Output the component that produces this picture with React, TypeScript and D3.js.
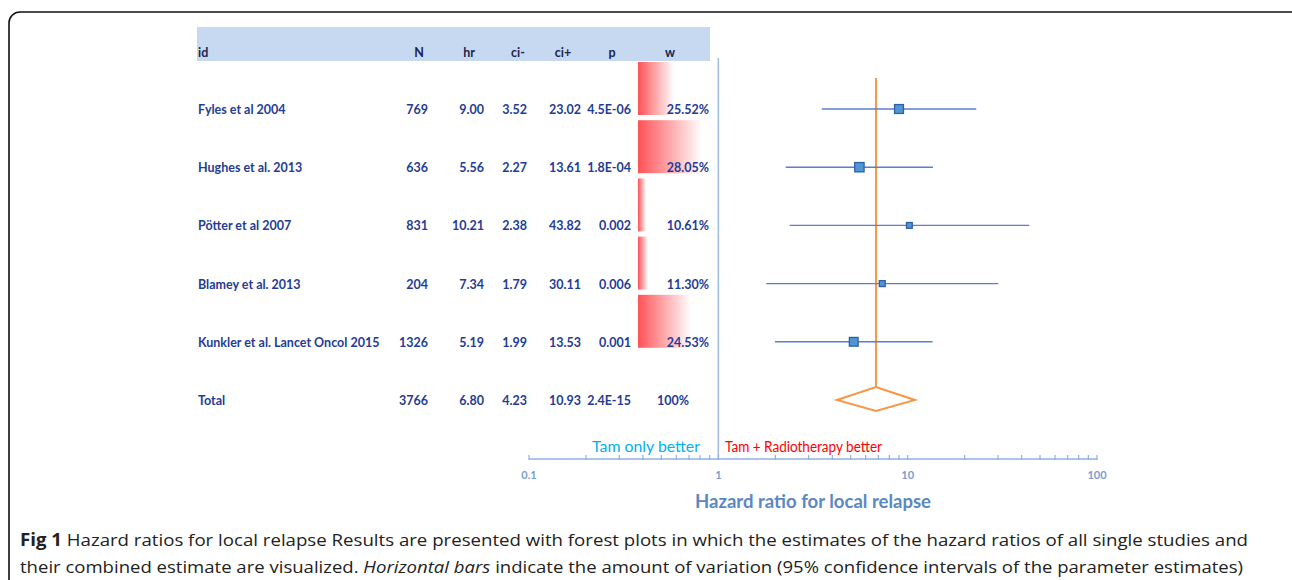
import React, { useEffect, useRef } from 'react';
import * as d3 from 'd3';

// study table
const studies = ['Fyles et al 2004', 'Hughes et al. 2013', 'Pötter et al 2007', 'Blamey et al. 2013', 'Kunkler et al. Lancet Oncol 2015'];
const nVals = [769, 636, 831, 204, 1326];
const hrVals = [9.0, 5.56, 10.21, 7.34, 5.19];
const ciLow = [3.52, 2.27, 2.38, 1.79, 1.99];
const ciHigh = [23.02, 13.61, 43.82, 30.11, 13.53];
const pVals = ['4.5E-06', '1.8E-04', '0.002', '0.006', '0.001'];
const weights = [25.52, 28.05, 10.61, 11.3, 24.53];
// data-bar lengths as drawn in the figure (Fyles bar is shorter than its weight)
const weightBars = [19.3, 28.05, 10.61, 11.3, 24.53];

const total = { id: 'Total', n: 3766, hr: 6.8, lo: 4.23, hi: 10.93, p: '2.4E-15', w: '100%' };

const headers = ['N', 'hr', 'ci-', 'ci+', 'p', 'w'];
const axisLabels = [0.1, 1, 10, 100];

function App() {
  const ref = useRef<SVGSVGElement>(null);

  useEffect(() => {
    if (!ref.current) return;
    const svg = d3.select(ref.current);
    svg.selectAll('*').remove();

    const tableFont = 'Lato, "Open Sans", sans-serif';
    const navy = '#1f3c96';
    const fs = 12.5;

    // outer frame
    svg.append('rect')
      .attr('x', 9).attr('y', 12).attr('width', 1300).attr('height', 600)
      .attr('rx', 11)
      .attr('fill', 'none').attr('stroke', '#111').attr('stroke-width', 1.6);

    // rows
    const rowIds = [...studies, total.id];
    const y = d3.scalePoint<string>().domain(rowIds).range([109, 400]);

    // header band
    svg.append('rect')
      .attr('x', 197).attr('y', 27).attr('width', 513).attr('height', 34)
      .attr('fill', '#c6d9f1');

    const colX = [428, 484, 527, 581, 631, 709];
    const headerX = [419, 469, 518, 563, 612, 670];
    svg.append('text')
      .attr('x', 198).attr('y', 57)
      .attr('font-family', tableFont).attr('font-weight', 'bold').attr('font-size', fs)
      .attr('fill', '#1a2550').text('id');
    svg.selectAll('.hdr').data(headers).enter().append('text')
      .attr('x', (d, i) => headerX[i]).attr('y', 57)
      .attr('text-anchor', 'middle')
      .attr('font-family', tableFont).attr('font-weight', 'bold').attr('font-size', fs)
      .attr('fill', '#1a2550').text(d => d);

    // weight data bars
    const defs = svg.append('defs');
    const grad = defs.append('linearGradient').attr('id', 'wgrad')
      .attr('x1', '0%').attr('x2', '100%').attr('y1', '0%').attr('y2', '0%');
    grad.append('stop').attr('offset', '0%').attr('stop-color', '#ff5257');
    grad.append('stop').attr('offset', '100%').attr('stop-color', '#ffffff');

    const wScale = d3.scaleLinear()
      .domain([d3.min(weights)!, d3.max(weights)!])
      .range([8, 64]);

    svg.selectAll('.wbar').data(weightBars).enter().append('rect')
      .attr('x', 638)
      .attr('y', (d, i) => y(studies[i])! - 47)
      .attr('width', d => wScale(d))
      .attr('height', 53)
      .attr('fill', 'url(#wgrad)');

    // table rows
    const rows = studies.map((s, i) => [
      s, String(nVals[i]), hrVals[i].toFixed(2), ciLow[i].toFixed(2), ciHigh[i].toFixed(2), pVals[i], weights[i].toFixed(2) + '%',
    ]);
    rows.push([total.id, String(total.n), total.hr.toFixed(2), total.lo.toFixed(2), total.hi.toFixed(2), total.p, total.w]);

    rows.forEach((r, ri) => {
      const yy = y(rowIds[ri])! + 5;
      const g = svg.append('g')
        .attr('font-family', tableFont).attr('font-weight', 'bold').attr('font-size', fs)
        .attr('fill', navy);
      g.append('text').attr('x', 198).attr('y', yy).text(r[0]);
      r.slice(1).forEach((v, ci) => {
        const isTotalW = ri === rows.length - 1 && ci === 5;
        g.append('text')
          .attr('x', isTotalW ? 689 : colX[ci]).attr('y', yy)
          .attr('text-anchor', 'end')
          .text(v);
      });
    });

    // forest plot
    const x = d3.scaleLog().domain([0.1, 100]).range([529, 1097]);
    const axisY = 459;

    // reference line at 1
    svg.append('line')
      .attr('x1', x(1)).attr('x2', x(1)).attr('y1', 58).attr('y2', axisY)
      .attr('stroke', '#9dbbe6').attr('stroke-width', 1.5);

    // pooled estimate line
    svg.append('line')
      .attr('x1', x(total.hr)).attr('x2', x(total.hr))
      .attr('y1', 78).attr('y2', y(total.id)! - 13)
      .attr('stroke', '#f79646').attr('stroke-width', 2);

    // CI lines
    svg.selectAll('.ci').data(studies).enter().append('line')
      .attr('x1', (d, i) => x(ciLow[i])).attr('x2', (d, i) => x(ciHigh[i]))
      .attr('y1', d => y(d)!).attr('y2', d => y(d)!)
      .attr('stroke', '#5b7fc9').attr('stroke-width', 1.4);

    // squares
    svg.selectAll('.sq').data(studies).enter().append('rect')
      .attr('x', (d, i) => x(hrVals[i]) - Math.sqrt(weights[i]) * 0.88)
      .attr('y', (d, i) => y(d)! - Math.sqrt(weights[i]) * 0.88)
      .attr('width', (d, i) => Math.sqrt(weights[i]) * 1.76)
      .attr('height', (d, i) => Math.sqrt(weights[i]) * 1.76)
      .attr('fill', '#4f97d3').attr('stroke', '#2f5ea8').attr('stroke-width', 1.3);

    // diamond
    const ty = y(total.id)!;
    svg.append('path')
      .attr('d', `M${x(total.lo)},${ty} L${x(total.hr)},${ty - 13} L${x(total.hi)},${ty} L${x(total.hr)},${ty + 11} Z`)
      .attr('fill', 'white').attr('stroke', '#f79646').attr('stroke-width', 2);

    // axis
    svg.append('line')
      .attr('x1', x(0.1)).attr('x2', x(100)).attr('y1', axisY).attr('y2', axisY)
      .attr('stroke', '#8fb0e0').attr('stroke-width', 1.3);
    svg.selectAll('.tick').data(x.ticks()).enter().append('line')
      .attr('x1', d => x(d)).attr('x2', d => x(d))
      .attr('y1', axisY - 4).attr('y2', axisY + 1)
      .attr('stroke', '#8fb0e0').attr('stroke-width', 1.2);
    svg.selectAll('.tlab').data(axisLabels).enter().append('text')
      .attr('x', d => x(d)).attr('y', 479)
      .attr('text-anchor', 'middle')
      .attr('font-family', tableFont).attr('font-weight', 'bold').attr('font-size', 11)
      .attr('fill', '#7a9cd2')
      .text(d => String(d));

    // direction labels
    svg.append('text')
      .attr('x', 700).attr('y', 452).attr('text-anchor', 'end')
      .attr('font-family', tableFont).attr('font-size', 14.5)
      .attr('textLength', 108).attr('lengthAdjust', 'spacingAndGlyphs')
      .attr('fill', '#00b0f0').text('Tam only better');
    svg.append('text')
      .attr('x', 725).attr('y', 452)
      .attr('font-family', tableFont).attr('font-size', 14.5)
      .attr('textLength', 157).attr('lengthAdjust', 'spacingAndGlyphs')
      .attr('fill', '#ff0000').text('Tam + Radiotherapy better');

    // axis title
    svg.append('text')
      .attr('x', 695).attr('y', 508)
      .attr('font-family', tableFont).attr('font-weight', 'bold').attr('font-size', 19)
      .attr('textLength', 236).attr('lengthAdjust', 'spacingAndGlyphs')
      .attr('fill', '#5b87c5').text('Hazard ratio for local relapse');

    // caption
    const cap1 = svg.append('text')
      .attr('x', 20).attr('y', 546)
      .attr('font-family', '"Open Sans", sans-serif').attr('font-size', 17)
      .attr('fill', '#222')
      .attr('textLength', 1228).attr('lengthAdjust', 'spacingAndGlyphs');
    cap1.append('tspan').attr('font-weight', 'bold').text('Fig 1');
    cap1.append('tspan').text(' Hazard ratios for local relapse Results are presented with forest plots in which the estimates of the hazard ratios of all single studies and');

    const cap2 = svg.append('text')
      .attr('x', 20).attr('y', 573)
      .attr('font-family', '"Open Sans", sans-serif').attr('font-size', 17)
      .attr('fill', '#222')
      .attr('textLength', 1223).attr('lengthAdjust', 'spacingAndGlyphs');
    cap2.append('tspan').text('their combined estimate are visualized. ');
    cap2.append('tspan').attr('font-style', 'italic').text('Horizontal bars');
    cap2.append('tspan').text(' indicate the amount of variation (95% confidence intervals of the parameter estimates)');
  }, []);

  return (
    <svg
      ref={ref}
      width={1292}
      height={580}
      style={{ position: 'absolute', left: 0, top: 0, background: 'white' }}
    />
  );
}

export default App;
